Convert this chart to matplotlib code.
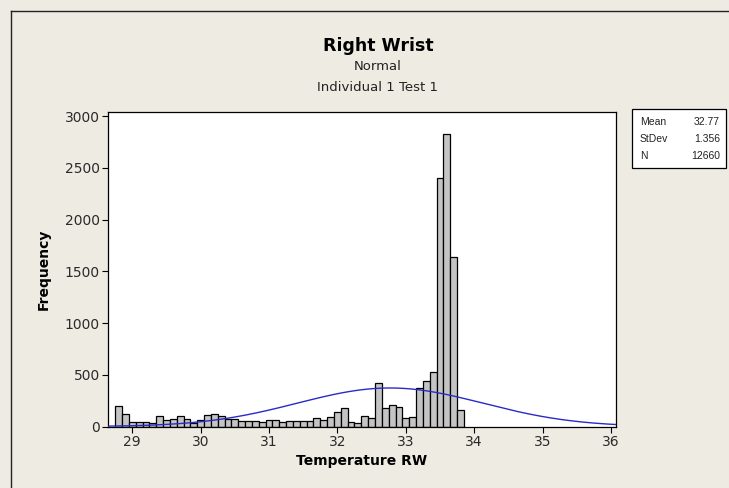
import numpy as np
import matplotlib
matplotlib.use("Agg")
import matplotlib.pyplot as plt
from matplotlib.lines import Line2D

# === DATA ===
bin_start = 28.75
bin_width = 0.1
counts = [199, 125, 48, 48, 48, 38, 106, 61, 74, 106,
          74, 38, 67, 109, 125, 99, 77, 77, 58, 58,
          58, 48, 67, 67, 48, 58, 58, 58, 58, 80,
          61, 96, 145, 180, 48, 32, 106, 80, 421, 180,
          206, 185, 80, 93, 373, 437, 524, 2404, 2829, 1643,
          160]
mean_val = 32.77
std_val = 1.356
n_val = 12660
x_ticks = [29, 30, 31, 32, 33, 34, 35, 36]
y_ticks = [0, 500, 1000, 1500, 2000, 2500, 3000]

BG = "#eeebe2"

# === FIGURE ===
fig = plt.figure(figsize=(7.29, 4.88), dpi=100, facecolor=BG)
ax = fig.add_axes([0.1486, 0.126, 0.696, 0.6445])
ax.set_facecolor("white")

edges = bin_start + bin_width * np.arange(len(counts) + 1)
ax.bar(edges[:-1], counts, width=bin_width, align="edge",
       color="#c4c4c4", edgecolor="black", linewidth=0.9, zorder=2)

# fitted normal curve
xs = np.linspace(28.65, 36.07, 400)
pdf = n_val * bin_width / (std_val * np.sqrt(2 * np.pi)) * np.exp(-0.5 * ((xs - mean_val) / std_val) ** 2)
ax.plot(xs, pdf, color="#2a2ac8", linewidth=1.0, zorder=3)

ax.set_xlim(28.65, 36.07)
ax.set_ylim(0, 3040)
ax.set_xticks(x_ticks)
ax.set_yticks(y_ticks)
ax.tick_params(direction="out", length=4, width=0.8, labelsize=10,
               color="black", labelcolor="#2a2a2a", pad=2)
for s in ax.spines.values():
    s.set_linewidth(0.9)

ax.set_xlabel("Temperature RW", fontsize=10, fontweight="bold", labelpad=4)
ax.set_ylabel("Frequency", fontsize=10, fontweight="bold", labelpad=10)

# titles
fig.text(0.5185, 0.905, "Right Wrist", ha="center", va="center",
         fontsize=12.5, fontweight="bold")
fig.text(0.5185, 0.864, "Normal", ha="center", va="center", fontsize=9.5, color="#222222")
fig.text(0.5185, 0.821, "Individual 1 Test 1", ha="center", va="center", fontsize=9.5, color="#222222")

# stats box
box = plt.Rectangle((632 / 729, 1 - 168 / 488), 94 / 729, 59 / 488,
                    transform=fig.transFigure, facecolor="white",
                    edgecolor="black", linewidth=0.9)
fig.add_artist(box)
labels = ["Mean", "StDev", "N"]
values = ["32.77", "1.356", "12660"]
for i, (lab, val) in enumerate(zip(labels, values)):
    yy = 1 - (122 + 17 * i) / 488
    fig.text(640 / 729, yy, lab, ha="left", va="center", fontsize=7.5,
             family=["Liberation Sans", "DejaVu Sans"], color="#222222")
    fig.text(720 / 729, yy, val, ha="right", va="center", fontsize=7.5,
             family=["Liberation Sans", "DejaVu Sans"], color="#222222")

# outer frame
fig.add_artist(Line2D([11 / 729, 1], [1 - 11 / 488, 1 - 11 / 488],
                      transform=fig.transFigure, color="#222222", linewidth=1.0))
fig.add_artist(Line2D([11 / 729, 11 / 729], [0, 1 - 11 / 488],
                      transform=fig.transFigure, color="#222222", linewidth=1.0))

fig.savefig("out.png", dpi=100, facecolor=BG)
